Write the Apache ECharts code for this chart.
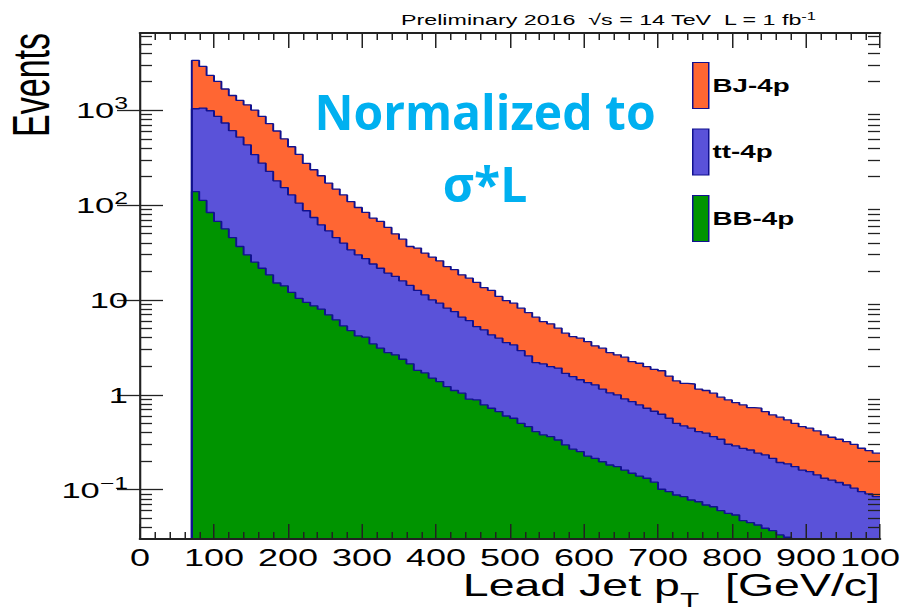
<!DOCTYPE html>
<html><head><meta charset="utf-8">
<script src="https://cdn.jsdelivr.net/npm/echarts@6/dist/echarts.min.js"></script>
<style>
html,body{margin:0;padding:0;background:#fff;overflow:hidden}
#wrap{width:900px;height:611px;overflow:hidden;position:relative;background:#fff}
#chart{width:600px;height:611px;transform:scaleX(1.5);transform-origin:0 0}
</style></head>
<body><div id="wrap"><div id="chart"></div></div>
<script>
// ---- data ----
const binLowEdges = [70,80,90,100,110,120,130,140,150,160,170,180,190,200,210,220,230,240,250,260,
 270,280,290,300,310,320,330,340,350,360,370,380,390,400,410,420,430,440,450,460,
 470,480,490,500,510,520,530,540,550,560,570,580,590,600,610,620,630,640,650,660,
 670,680,690,700,710,720,730,740,750,760,770,780,790,800,810,820,830,840,850,860,
 870,880,890,900,910,920,930,940,950,960,970,980,990];
const binUpperEdge = 1000;

const seriesNames = ['BJ-4p', 'tt-4p', 'BB-4p'];

const valuesBJ = [2313,1845,1342,1149,942,822,749,708,665,584,
 495,424,347,284,237,188,162,142,117,102,
 88.3,75.3,64.5,56.4,49.0,45.6,38.9,32.1,27.9,22.4,
 22.6,19.9,18.3,16.6,14.3,13.3,11.8,10.9,10.1,8.66,
 8.31,6.95,6.30,5.89,5.27,4.79,4.40,3.80,3.62,3.13,
 2.78,2.55,2.51,2.29,2.01,1.95,1.74,1.64,1.59,1.39,
 1.37,1.26,1.18,1.17,1.01,0.899,0.850,0.855,0.741,0.716,
 0.678,0.604,0.582,0.539,0.509,0.471,0.480,0.433,0.400,0.388,
 0.356,0.326,0.301,0.290,0.273,0.246,0.231,0.221,0.209,0.197,
 0.178,0.168,0.158];

const valuesTT = [898,943,904,794,677,563,484,402,315,255,
 208,165,139,116,94.6,77.7,65.3,54.0,46.6,39.3,
 34.4,29.0,25.7,23.2,20.5,18.5,16.4,15.1,13.5,12.1,
 10.8,9.60,8.50,7.87,6.97,6.44,5.55,5.17,4.36,4.06,
 3.57,3.29,2.96,2.79,2.42,2.11,1.78,1.74,1.62,1.58,
 1.39,1.29,1.19,1.12,1.06,0.953,0.868,0.823,0.744,0.699,
 0.643,0.590,0.551,0.523,0.471,0.413,0.386,0.367,0.334,0.325,
 0.296,0.280,0.245,0.235,0.226,0.217,0.200,0.193,0.177,0.160,
 0.156,0.146,0.134,0.130,0.120,0.110,0.106,0.100,0.094,0.087,
 0.0793,0.0751,0.0703];

const valuesBB = [139,112,83.6,67.2,56.2,45.5,36.6,29.9,25.1,21.6,
 18.4,15.1,14.1,12.0,10.4,9.44,8.67,8.00,6.97,6.17,
 5.33,4.75,4.18,4.05,3.44,3.10,2.79,2.64,2.37,2.12,
 1.81,1.70,1.50,1.38,1.22,1.11,1.04,0.899,0.883,0.782,
 0.722,0.665,0.598,0.566,0.501,0.462,0.409,0.378,0.362,0.334,
 0.296,0.267,0.252,0.226,0.214,0.197,0.182,0.175,0.161,0.149,
 0.139,0.132,0.120,0.101,0.0953,0.0879,0.0843,0.0778,0.0746,0.0689,
 0.0661,0.0600,0.0563,0.0541,0.0471,0.0449,0.0424,0.0392,0.0370,0.0333,
 0.0315,0.029,0.027,0.025,0.023,0.022,0.020,0.019,0.018,0.017,
 0.016,0.015,0.014];

const xTickLabels = [0,100,200,300,400,500,600,700,800,900];
const xLastTickLabel = [1000];
const yMajorTicks = [0.1, 1, 10, 100, 1000];
const yMinorTicks = [0.04,0.05,0.06,0.07,0.08,0.09, 0.2,0.3,0.4,0.5,0.6,0.7,0.8,0.9,
 2,3,4,5,6,7,8,9, 20,30,40,50,60,70,80,90, 200,300,400,500,600,700,800,900,
 2000,3000,4000,5000,6000];
const Y_MIN = 0.0302, Y_MAX = 6520;

// ---- styling ----
const S = 1.5; // horizontal stretch of the original picture
const FONT = '"Liberation Sans", Arial, Helvetica, sans-serif';
const FRAME = '#222';
const EDGE = '#11118f';
const COLORS = {'BJ-4p':'#FF6633', 'tt-4p':'#5A52D9', 'BB-4p':'#009400'};

// stacked totals (THStack style)
const cumBB = valuesBB.slice();
const cumTT = valuesTT.map((v,i) => v + valuesBB[i]);
const cumBJ = valuesBJ.map((v,i) => v + cumTT[i]);

function stepData(vals){
  const d = [[binLowEdges[0], Y_MIN]];
  vals.forEach((v,i) => d.push([binLowEdges[i], v]));
  d.push([binUpperEdge, vals[vals.length-1]]);
  return d;
}
function mkSeries(name, vals){
  return {name, type:'line', step:'end', data:stepData(vals), symbol:'none', showSymbol:false,
    silent:true, clip:true, itemStyle:{color:COLORS[name]},
    lineStyle:{color:EDGE, width:1.3},
    areaStyle:{color:COLORS[name], opacity:1, origin:'start'},
    emphasis:{disabled:true}};
}
function fmtPow(v){
  const e = Math.round(Math.log10(v));
  if (e === 0) return '1';
  if (e === 1) return '10';
  return '10{sup|' + (e < 0 ? '\u2212' + (-e) : e) + '}';
}
const xLabelStyle = {fontFamily:FONT, fontSize:24, color:'#000', margin:6,
  showMinLabel:true, showMaxLabel:true, hideOverlap:false, formatter:(v) => String(v)};
const xAxisBase = {type:'value', min:0, max:1000, interval:100, z:10,
  splitLine:{show:false}, minorSplitLine:{show:false},
  axisLine:{show:true, onZero:false, lineStyle:{color:FRAME, width:1.8}},
  axisTick:{show:true, inside:true, length:15, lineStyle:{color:FRAME, width:1}},
  minorTick:{show:true, splitNumber:5, length:7, lineStyle:{color:FRAME, width:1}}};
const yAxisBase = {type:'log', logBase:10, min:Y_MIN, max:Y_MAX, z:10, splitLine:{show:false}};

const option = {
  animation:false,
  grid:{left:140/S, right:20/S, top:33, bottom:72, containLabel:false, outerBoundsMode:'none'},
  legend:{data:seriesNames, orient:'vertical', left:692/S, top:62, padding:0, itemWidth:16/S, itemHeight:46,
    itemGap:19.5, icon:'rect', selectedMode:false,
    itemStyle:{borderColor:EDGE, borderWidth:1},
    textStyle:{fontFamily:FONT, fontWeight:'bold', fontSize:18.5, color:'#000', padding:[0,0,0,-2.5]}},
  xAxis:[
    Object.assign({}, xAxisBase, {position:'bottom',
      axisLabel:Object.assign({show:true, customValues:xTickLabels}, xLabelStyle)}),
    Object.assign({}, xAxisBase, {position:'top', axisLabel:{show:false}}),
    // second label row holder for the last (clipped) label, drawn on the same scale
    Object.assign({}, xAxisBase, {position:'bottom', axisLine:{show:false}, axisTick:{show:false},
      minorTick:{show:false},
      axisLabel:Object.assign({show:true, customValues:xLastTickLabel}, xLabelStyle)})
  ],
  yAxis:[
    Object.assign({}, yAxisBase, {position:'left',
      axisLine:{show:true, lineStyle:{color:FRAME, width:1.2}},
      axisTick:{show:true, inside:true, length:23/S, customValues:yMajorTicks, lineStyle:{color:FRAME, width:1.3}},
      axisLabel:{show:true, customValues:yMajorTicks, formatter:fmtPow, margin:12/S,
        fontFamily:FONT, fontSize:23, color:'#000',
        rich:{sup:{fontFamily:FONT, fontSize:16.5, color:'#000', verticalAlign:'top', padding:[0,0,14,0]}}}}),
    Object.assign({}, yAxisBase, {position:'left', axisLine:{show:false},
      axisTick:{show:true, inside:true, length:12/S, customValues:yMinorTicks, lineStyle:{color:FRAME, width:1.3}},
      axisLabel:{show:false}}),
    Object.assign({}, yAxisBase, {position:'right',
      axisLine:{show:true, lineStyle:{color:FRAME, width:1.2}},
      axisTick:{show:true, inside:true, length:23/S, customValues:yMajorTicks, lineStyle:{color:FRAME, width:1.3}},
      axisLabel:{show:false}}),
    Object.assign({}, yAxisBase, {position:'right', axisLine:{show:false},
      axisTick:{show:true, inside:true, length:12/S, customValues:yMinorTicks, lineStyle:{color:FRAME, width:1.3}},
      axisLabel:{show:false}})
  ],
  series:[
    mkSeries('BJ-4p', cumBJ),
    mkSeries('tt-4p', cumTT),
    mkSeries('BB-4p', cumBB)
  ],
  graphic:[
    {type:'text', x:31/S, y:33, rotation:Math.PI/2, silent:true,
      style:{text:'Events', fontFamily:FONT, fontSize:34, fill:'#000', align:'right', verticalAlign:'middle'}},
    {type:'text', x:816/S, y:20, silent:true,
      style:{text:'Preliminary 2016  \u221As = 14 TeV  L = 1 fb{sup|-1}', fontFamily:FONT, fontSize:15.5, fill:'#000',
        align:'right', verticalAlign:'middle',
        rich:{sup:{fontFamily:FONT, fontSize:11, fill:'#000', verticalAlign:'top', padding:[0,0,8,0]}}}},
    {type:'text', x:880/S, y:585, silent:true,
      style:{text:'Lead Jet p{sub|T}  [GeV/c]', fontFamily:FONT, fontSize:31, fill:'#000',
        align:'right', verticalAlign:'middle',
        rich:{sub:{fontFamily:FONT, fontSize:21, fill:'#000', verticalAlign:'bottom', padding:[30,0,0,0]}}}},
    {type:'text', x:485/S, y:112, scaleX:1/S, silent:true,
      style:{text:'Normalized to', fontFamily:'"Open Sans", sans-serif', fontWeight:'bold', fontSize:48,
        fill:'#00B0F0', align:'center', verticalAlign:'middle'}},
    {type:'text', x:485/S, y:184, scaleX:1/S, silent:true,
      style:{text:'\u03C3*L', fontFamily:'"Open Sans", sans-serif', fontWeight:'bold', fontSize:48,
        fill:'#00B0F0', align:'center', verticalAlign:'middle'}}
  ]
};
const chart = echarts.init(document.getElementById('chart'), null, {renderer:'svg', width:600, height:611});
chart.setOption(option);
</script>
</body></html>
